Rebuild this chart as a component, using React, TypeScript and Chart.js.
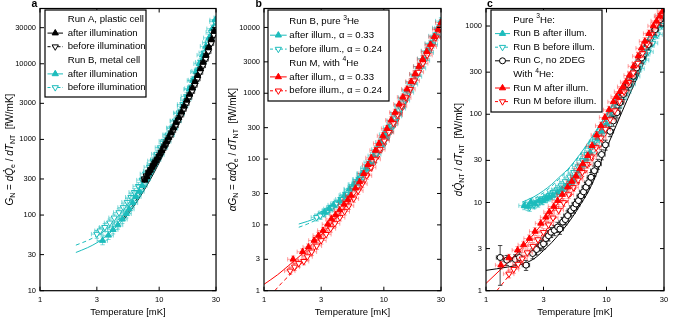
import React, { useEffect, useRef } from 'react';
import { Chart, registerables } from 'chart.js';

Chart.register(...registerables);

const FONT = '"Liberation Sans", Arial, Helvetica, sans-serif';
const CYAN = '#1cbcbc';
const CYAN_ERR = 'rgba(28,188,188,0.55)';
const RED = '#ff0000';
const RED_ERR = 'rgba(255,20,20,0.4)';
const BLACK = '#000000';
const BLACK_ERR = 'rgba(0,0,0,0.7)';

// ---------- axis ticks ----------
const X_TICKS = [1, 3, 10, 30];
const A_Y_TICKS = [10, 30, 100, 300, 1000, 3000, 10000, 30000];
const B_Y_TICKS = [1, 3, 10, 30, 100, 300, 1000, 3000, 10000];
const C_Y_TICKS = [1, 3, 10, 30, 100, 300, 1000];

// ---------- panel a ----------
const aCyanAfterT = [3.35, 3.75, 4.1, 4.5, 4.9, 5.3, 5.6, 6.0, 6.4, 6.8, 7.2, 7.7, 8.2, 8.8, 9.4, 10.0, 10.7, 11.4, 12.2, 13.0, 13.9, 14.8, 15.8, 16.8, 17.9, 19.1, 20.4, 21.7, 23.1, 24.6, 26.2, 27.9, 29.6];
const aCyanAfterG = [46, 54, 64, 74, 88, 104, 120, 145, 175, 205, 245, 300, 380, 470, 540, 630, 780, 940, 1150, 1400, 1750, 2200, 2750, 3400, 4600, 6000, 7800, 10000, 13000, 17000, 22000, 29000, 38000];
const aCyanBeforeT = [3.0, 3.2, 3.5, 3.85, 4.2, 4.6, 5.0, 5.4, 5.8, 6.2, 6.7, 7.2, 7.7, 8.3, 8.9, 9.6, 10.3, 11.1, 11.9, 12.8, 13.7, 14.7, 15.8, 17.0, 18.2, 19.5, 20.9, 22.4, 24.0, 25.7, 27.5, 29.5];
const aCyanBeforeG = [56, 62, 69, 79, 92, 108, 126, 148, 172, 200, 240, 290, 350, 430, 520, 640, 780, 950, 1150, 1420, 1760, 2250, 2900, 3700, 4700, 6100, 8000, 10500, 14000, 19000, 26000, 36000];
const aBlackAfterT = [7.6, 7.9, 8.1, 8.4, 8.7, 9.0, 9.3, 9.7, 10.1, 10.5, 11.0, 11.5, 12.0, 12.6, 13.2, 13.9, 14.6, 15.4, 16.2, 17.1, 18.0, 19.0, 20.0, 21.0, 22.2, 23.4, 24.7, 26.0, 27.5, 29.0];
const aBlackAfterG = [290, 320, 360, 390, 430, 470, 520, 570, 640, 710, 820, 930, 1060, 1230, 1420, 1680, 1950, 2300, 2750, 3300, 3950, 4800, 5800, 7000, 8600, 10500, 13000, 16500, 21000, 27000];
const aBlackBeforeT = [7.5, 7.8, 8.2, 8.5, 8.9, 9.2, 9.6, 10.0, 10.4, 10.9, 11.4, 11.9, 12.5, 13.1, 13.8, 14.5, 15.3, 16.1, 17.0, 17.9, 18.9, 19.9, 21.0, 22.1, 23.3, 24.6, 25.9, 27.3, 28.8];
const aBlackBeforeG = [300, 330, 370, 400, 450, 490, 540, 600, 670, 760, 860, 980, 1120, 1300, 1520, 1780, 2100, 2500, 3000, 3600, 4300, 5200, 6300, 7700, 9400, 11500, 14500, 18500, 24000];
const aCurveT = [2, 2.5, 3, 3.5, 4, 5, 6, 7, 8, 10, 12, 15, 20, 25, 30];
const aCyanSolidG = [32, 37, 43, 51, 61, 88, 128, 185, 265, 520, 950, 2200, 7000, 18000, 42000];
const aCyanDashG = [40, 46, 53, 62, 73, 102, 145, 205, 290, 560, 1000, 2300, 7200, 18500, 43000];
const aBlackCurveT = [5, 6, 7, 8, 10, 12, 15, 20, 25, 30];
const aBlackSolidG = [85, 125, 180, 255, 490, 900, 2050, 6500, 17000, 40000];
const aBlackDashG = [92, 135, 195, 275, 520, 950, 2150, 6800, 17500, 41000];

// ---------- panel b ----------
const bRedAfterT = [1.75, 2.1, 2.35, 2.62, 2.85, 3.11, 3.4, 3.65, 3.95, 4.28, 4.65, 5.0, 5.34, 5.8, 6.28, 6.8, 7.37, 7.85, 8.5, 9.1, 9.8, 10.6, 11.5, 12.4, 13.4, 14.4, 15.6, 16.9, 18.2, 19.6, 21.1, 22.8, 24.5, 26.4, 28.4, 30.0];
const bRedAfterG = [3.0, 3.9, 4.6, 5.8, 6.9, 8.2, 10.2, 12.3, 14.2, 16.8, 20.5, 24, 28, 36, 45, 60, 82, 104, 135, 172, 225, 290, 390, 510, 680, 870, 1150, 1500, 1950, 2550, 3300, 4300, 5500, 7200, 9300, 11800];
const bRedBeforeT = [1.65, 1.8, 1.95, 2.15, 2.3, 2.5, 2.75, 3.0, 3.3, 3.6, 3.9, 4.3, 4.7, 5.1, 5.6, 6.1, 6.6, 7.2, 7.8, 8.5, 9.3, 10.1, 11.0, 12.0, 13.0, 14.1, 15.3, 16.6, 18.0, 19.5, 21.2, 23.0, 25.0, 27.1, 29.3];
const bRedBeforeG = [2.0, 2.3, 2.6, 2.8, 3.3, 3.9, 4.8, 5.8, 7.2, 8.8, 10.5, 13, 16, 19.5, 25, 33, 42, 56, 75, 100, 140, 190, 255, 350, 470, 640, 860, 1150, 1550, 2100, 2850, 3800, 5100, 7000, 9400];
const bCyanAfterT = [3.2, 3.5, 3.8, 4.28, 4.7, 5.17, 5.6, 6.08, 6.6, 7.1, 7.6, 8.2, 8.8, 9.5, 10.2, 11.0, 11.8, 12.7, 13.7, 14.7, 15.8, 17.0, 18.3, 19.7, 21.2, 22.8, 24.5, 26.3, 28.3, 30];
const bCyanAfterG = [15.5, 17.5, 20, 23.2, 28, 35, 41, 49, 60, 72, 88, 112, 140, 180, 235, 300, 385, 500, 660, 860, 1120, 1480, 1950, 2550, 3350, 4400, 5700, 7400, 9800, 12500];
const bCyanBeforeT = [2.75, 2.95, 3.15, 3.4, 3.7, 4.0, 4.4, 4.8, 5.2, 5.7, 6.2, 6.7, 7.3, 7.9, 8.6, 9.3, 10.1, 10.9, 11.8, 12.8, 13.8, 14.9, 16.1, 17.4, 18.8, 20.3, 21.9, 23.6, 25.5, 27.5, 29.6];
const bCyanBeforeG = [13, 13.8, 15, 16.5, 18.5, 21, 24.5, 29, 34, 41, 49, 60, 75, 93, 118, 150, 200, 260, 340, 450, 590, 780, 1030, 1370, 1800, 2400, 3150, 4150, 5500, 7300, 9800];
const bCyanCurveT = [1.95, 2.3, 2.7, 3.2, 3.7, 4.3, 5, 6, 7, 8, 10, 12, 15, 20, 25, 30];
const bCyanSolidG = [10.3, 11.3, 12.6, 14.8, 17.5, 21.5, 28, 41, 60, 85, 165, 300, 700, 2300, 6000, 13500];
const bCyanDashG = [9.2, 10.3, 11.8, 14.2, 17.0, 21.0, 27.5, 40, 58, 82, 158, 285, 670, 2200, 5800, 13000];
const bRedSolidT = [1, 1.3, 1.6, 2, 2.5, 3, 3.5, 4, 5, 6, 7, 8, 10, 12, 15, 20, 25, 30];
const bRedSolidG = [1.25, 1.75, 2.4, 3.4, 5.0, 7.0, 9.6, 12.8, 21, 33, 52, 78, 160, 290, 650, 2150, 5500, 12000];
const bRedDashT = [1.23, 1.4, 1.7, 2, 2.5, 3, 3.5, 4, 5, 6, 7, 8, 10, 12, 15, 20, 25, 30];
const bRedDashG = [1.0, 1.3, 1.85, 2.5, 3.8, 5.5, 7.6, 10.3, 17.5, 28, 44, 68, 145, 270, 620, 2100, 5400, 11800];

// ---------- panel c ----------
const cCircleT = [1.31, 1.49, 1.75, 1.89, 2.15, 2.44, 2.63, 2.86, 3.0, 3.14, 3.3, 3.46, 3.69, 3.93, 4.1, 4.33, 4.55, 4.76, 5.07, 5.35, 5.58, 5.85, 6.14, 6.45, 6.76, 7.1, 7.44, 7.93, 8.46, 9.1, 9.8, 10.7, 11.4, 12.2, 12.9, 13.8, 15.2, 16.7, 17.8, 19.6, 22.2, 25.3, 27.9];
const cCircleG = [2.38, 2.22, 2.26, 2.38, 1.95, 2.64, 2.93, 3.27, 3.4, 3.9, 4.2, 4.6, 4.83, 5.27, 5.0, 6.0, 6.4, 7.1, 8.1, 8.7, 9.6, 10.5, 11.9, 13.2, 14.9, 16.8, 19.3, 22.9, 27.3, 35, 45, 64, 84, 104, 135, 168, 215, 270, 335, 435, 615, 910, 1180];
const cCircleFirstErr = [1.15, 3.25];
const cBlackLineT = [1, 1.5, 2, 2.5, 3, 3.5, 4, 4.5, 5, 5.5, 6, 7, 8, 9, 10, 12, 15, 20, 25, 30];
const cBlackLineG = [1.7, 1.85, 2.0, 2.3, 2.85, 3.5, 4.3, 5.2, 6.3, 7.6, 9.2, 13, 19, 29, 41, 74, 150, 360, 780, 1500];
const cRedAfterT = [1.33, 1.55, 1.83, 2.05, 2.29, 2.55, 2.85, 3.14, 3.35, 3.65, 3.93, 4.3, 4.76, 5.15, 5.58, 6.0, 6.35, 6.99, 7.6, 8.28, 9.0, 9.7, 10.5, 11.4, 12.1, 12.9, 13.7, 14.5, 15.5, 16.8, 18.3, 19.5, 20.8, 22.5, 24.5, 26.0, 27.7, 29.3];
const cRedAfterG = [1.95, 2.35, 2.88, 3.3, 3.9, 4.7, 5.8, 6.8, 7.8, 9.0, 10.5, 12.3, 14.9, 17.3, 20, 24, 27.3, 34, 44, 58, 74, 92, 112, 138, 158, 180, 205, 232, 275, 350, 455, 560, 670, 820, 1000, 1140, 1290, 1480];
const cRedBeforeT = [1.55, 1.7, 1.85, 2.0, 2.2, 2.45, 2.7, 3.0, 3.3, 3.6, 4.0, 4.4, 4.85, 5.3, 5.8, 6.3, 6.9, 7.5, 8.2, 9.0, 9.8, 10.7, 11.7, 12.8, 14.0, 15.3, 16.7, 18.2, 19.9, 21.7, 23.7, 25.9, 28.2];
const cRedBeforeG = [1.55, 1.75, 2.0, 2.3, 2.7, 3.2, 3.8, 4.6, 5.6, 6.7, 8.2, 10, 12.3, 14.8, 18, 22, 27, 33, 42, 54, 68, 87, 110, 140, 180, 230, 295, 380, 490, 630, 810, 1030, 1320];
const cCyanAfterT = [2.08, 2.22, 2.36, 2.55, 2.75, 2.95, 3.14, 3.35, 3.58, 3.93, 4.25, 4.6, 4.9, 5.24, 5.6, 5.95, 6.35, 6.76, 7.3, 7.9, 8.5, 9.2, 10.0, 10.9, 11.8, 12.8, 13.9, 15.1, 16.4, 17.8, 19.3, 21.0, 22.8, 24.8, 27.0, 29.3];
const cCyanAfterG = [9.2, 9.0, 10.1, 9.6, 10.4, 10.5, 11, 11.5, 12, 13, 14, 14.9, 16.2, 17.7, 20, 22.9, 26.5, 31, 37, 45, 53, 64, 78, 95, 115, 140, 170, 210, 260, 320, 400, 500, 620, 780, 1000, 1300];
const cCyanBeforeT = [2.3, 2.5, 2.7, 2.9, 3.1, 3.35, 3.6, 3.9, 4.2, 4.55, 4.95, 5.35, 5.8, 6.3, 6.85, 7.4, 8.0, 8.7, 9.5, 10.3, 11.2, 12.2, 13.3, 14.5, 15.8, 17.2, 18.7, 20.4, 22.2, 24.2, 26.4, 28.7];
const cCyanBeforeG = [8.8, 9.4, 9.8, 10.6, 11.2, 12, 13, 14, 15.5, 17.3, 19.5, 22, 25.5, 30, 35, 41, 49, 58, 70, 84, 100, 122, 148, 180, 220, 270, 330, 410, 510, 640, 800, 1020];
const cCyanCurveT = [2, 2.5, 3, 3.5, 4, 4.5, 5, 6, 7, 8, 10, 12, 15, 20, 25, 30];
const cCyanSolidG = [10.1, 11.6, 13.6, 16, 19, 22, 25.5, 35, 47, 62, 100, 150, 260, 560, 1000, 1550];
const cCyanDashG = [9.6, 11.0, 12.9, 15.3, 18.2, 21.2, 24.8, 34, 45.5, 60, 98, 148, 255, 550, 990, 1540];
const cRedSolidT = [1, 1.3, 1.6, 2, 2.5, 3, 3.5, 4, 5, 6, 7, 8, 10, 12, 15, 20, 25, 30];
const cRedSolidG = [1.21, 1.7, 2.25, 3.1, 4.4, 6.0, 7.8, 10, 15.5, 23, 34, 50, 95, 150, 270, 560, 1000, 1550];
const cRedDashT = [1.23, 1.5, 2, 2.5, 3, 3.5, 4, 5, 6, 7, 8, 10, 12, 15, 20, 25, 30];
const cRedDashG = [1.0, 1.4, 2.3, 3.3, 4.5, 5.8, 7.4, 11.5, 17, 24, 33, 60, 100, 195, 450, 850, 1400];

// ---------- helpers ----------
function pts(xs: number[], ys: number[]) {
  return xs.map((x, i) => ({ x, y: ys[i] }));
}

function markerSet(label: string, T: number[], G: number[], color: string, errColor: string, kind: string, order: number, errX: number, errY: number, extra: any = {}) {
  return {
    label,
    data: pts(T, G),
    showLine: false,
    pointStyle: kind === 'circle' ? 'circle' : 'triangle',
    pointRotation: kind === 'down' ? 180 : 0,
    pointRadius: kind === 'circle' ? 3 : 3.6,
    pointBackgroundColor: kind === 'up' ? color : '#ffffff',
    pointBorderColor: color,
    pointBorderWidth: 1,
    borderColor: color,
    errX,
    errY,
    errColor,
    order,
    ...extra,
  };
}

function curveSet(label: string, T: number[], G: number[], color: string, dashed: boolean) {
  return {
    label,
    data: pts(T, G),
    showLine: true,
    pointRadius: 0,
    borderColor: color,
    borderWidth: 1,
    borderDash: dashed ? [4, 3] : [],
    cubicInterpolationMode: 'monotone',
    fill: false,
    order: 20,
  };
}

type Seg = { t: string; it?: boolean; sub?: boolean; sup?: boolean; dot?: boolean };

function segFont(s: Seg, size: number) {
  const sz = s.sub || s.sup ? size * 0.7 : size;
  return `${s.it ? 'italic ' : ''}${sz}px ${FONT}`;
}
function richWidth(ctx: any, segs: Seg[], size: number) {
  let w = 0;
  for (const s of segs) {
    ctx.font = segFont(s, size);
    w += ctx.measureText(s.t).width;
  }
  return w;
}
function drawRich(ctx: any, segs: Seg[], x: number, y: number, size: number, align: string) {
  let cx = align === 'center' ? x - richWidth(ctx, segs, size) / 2 : x;
  ctx.textBaseline = 'middle';
  ctx.textAlign = 'left';
  ctx.fillStyle = '#000';
  for (const s of segs) {
    ctx.font = segFont(s, size);
    const dy = s.sub ? size * 0.3 : s.sup ? -size * 0.38 : 0;
    ctx.fillText(s.t, cx, y + dy);
    const w = ctx.measureText(s.t).width;
    if (s.dot) {
      ctx.beginPath();
      ctx.arc(cx + w * 0.55 + 0.8, y - size * 0.62, size * 0.08, 0, Math.PI * 2);
      ctx.fill();
    }
    cx += w;
  }
}

function drawMarker(ctx: any, kind: string, x: number, y: number, color: string) {
  ctx.save();
  ctx.lineWidth = 1;
  ctx.strokeStyle = color;
  ctx.fillStyle = kind === 'up' ? color : '#ffffff';
  ctx.beginPath();
  if (kind === 'circle') {
    ctx.arc(x, y, 3, 0, Math.PI * 2);
  } else {
    const r = 3.6;
    const s = kind === 'up' ? 1 : -1;
    ctx.moveTo(x, y - s * r);
    ctx.lineTo(x + 0.866 * r, y + s * 0.5 * r);
    ctx.lineTo(x - 0.866 * r, y + s * 0.5 * r);
    ctx.closePath();
  }
  ctx.fill();
  ctx.stroke();
  ctx.restore();
}

function makeDecor(p: any) {
  return {
    id: 'decor',
    beforeDatasetDraw(chart: any, args: any) {
      const ds = chart.data.datasets[args.index];
      if (!ds.errX && !ds.errY) return;
      const { ctx, chartArea: ca, scales } = chart;
      const xs = scales.x;
      const ys = scales.y;
      ctx.save();
      ctx.beginPath();
      ctx.rect(ca.left, ca.top, ca.right - ca.left, ca.bottom - ca.top);
      ctx.clip();
      ctx.strokeStyle = ds.errColor;
      ctx.lineWidth = 1;
      const c = 2.2;
      ds.data.forEach((pt: any, i: number) => {
        const px = xs.getPixelForValue(pt.x);
        const py = ys.getPixelForValue(pt.y);
        const x0 = xs.getPixelForValue(pt.x * (1 - ds.errX));
        const x1 = xs.getPixelForValue(pt.x * (1 + ds.errX));
        let lo = pt.y * (1 - ds.errY);
        let hi = pt.y * (1 + ds.errY);
        if (i === 0 && ds.firstErr) {
          lo = ds.firstErr[0];
          hi = ds.firstErr[1];
        }
        const y0 = ys.getPixelForValue(lo);
        const y1 = ys.getPixelForValue(hi);
        ctx.beginPath();
        ctx.moveTo(x0, py); ctx.lineTo(x1, py);
        ctx.moveTo(x0, py - c); ctx.lineTo(x0, py + c);
        ctx.moveTo(x1, py - c); ctx.lineTo(x1, py + c);
        ctx.moveTo(px, y0); ctx.lineTo(px, y1);
        ctx.moveTo(px - c, y0); ctx.lineTo(px + c, y0);
        ctx.moveTo(px - c, y1); ctx.lineTo(px + c, y1);
        ctx.stroke();
      });
      ctx.restore();
    },
    afterDraw(chart: any) {
      const { ctx, chartArea: ca, scales } = chart;
      ctx.save();
      // inner ticks
      ctx.strokeStyle = '#000';
      ctx.lineWidth = 1;
      ctx.beginPath();
      X_TICKS.forEach((v) => {
        const x = scales.x.getPixelForValue(v);
        ctx.moveTo(x, ca.bottom); ctx.lineTo(x, ca.bottom - 4);
        ctx.moveTo(x, ca.top); ctx.lineTo(x, ca.top + 4);
      });
      p.yTicks.forEach((v: number) => {
        const y = scales.y.getPixelForValue(v);
        ctx.moveTo(ca.left, y); ctx.lineTo(ca.left + 4, y);
        ctx.moveTo(ca.right, y); ctx.lineTo(ca.right - 4, y);
      });
      ctx.stroke();
      // frame
      ctx.lineWidth = 1.2;
      ctx.strokeRect(ca.left, ca.top, ca.right - ca.left, ca.bottom - ca.top);
      // y title
      ctx.save();
      ctx.translate(p.titleX, (ca.top + ca.bottom) / 2);
      ctx.rotate(-Math.PI / 2);
      drawRich(ctx, p.title, 0, 0, 10, 'center');
      ctx.restore();
      // panel letter
      ctx.font = `bold 10.5px ${FONT}`;
      ctx.textAlign = 'left';
      ctx.textBaseline = 'alphabetic';
      ctx.fillStyle = '#000';
      ctx.fillText(p.letter, p.letterX, 7);
      // legend
      const L = p.legend;
      ctx.fillStyle = '#fff';
      ctx.fillRect(L.x0, L.y0, L.x1 - L.x0, L.y1 - L.y0);
      ctx.strokeStyle = '#000';
      ctx.lineWidth = 1.2;
      ctx.strokeRect(L.x0, L.y0, L.x1 - L.x0, L.y1 - L.y0);
      L.rows.forEach((r: any, i: number) => {
        const y = L.rowY0 + i * L.dy;
        if (r.color) {
          ctx.strokeStyle = r.color;
          ctx.lineWidth = 1;
          ctx.setLineDash(r.dashed ? [3, 2] : []);
          ctx.beginPath();
          ctx.moveTo(L.lineX0, y);
          ctx.lineTo(L.lineX1, y);
          ctx.stroke();
          ctx.setLineDash([]);
          drawMarker(ctx, r.kind, (L.lineX0 + L.lineX1) / 2, y, r.color);
        }
        drawRich(ctx, r.segs, L.textX, y, 9.6, 'left');
      });
      ctx.restore();
    },
  };
}

function buildConfig(p: any) {
  return {
    type: 'scatter',
    data: { datasets: p.datasets },
    options: {
      responsive: false,
      animation: false,
      devicePixelRatio: 1,
      events: [],
      layout: { padding: { left: 0, right: p.padRight, top: p.padTop, bottom: 0 } },
      plugins: { legend: { display: false }, tooltip: { enabled: false } },
      scales: {
        x: {
          type: 'logarithmic',
          min: 1,
          max: 30,
          position: 'bottom',
          grid: { display: false, drawTicks: false, tickLength: 0 },
          border: { display: false },
          ticks: {
            autoSkip: false,
            maxRotation: 0,
            padding: 4.8,
            color: '#000',
            font: { family: FONT, size: 7.5 },
            callback: (v: any) => String(v),
          },
          afterBuildTicks: (ax: any) => {
            ax.ticks = X_TICKS.map((v) => ({ value: v }));
          },
          afterFit: (ax: any) => {
            ax.height = 29.3;
          },
          title: {
            display: true,
            text: 'Temperature [mK]',
            color: '#000',
            font: { family: FONT, size: 9.5 },
            padding: { top: 0, bottom: 1.6 },
          },
        },
        y: {
          type: 'logarithmic',
          min: p.yMin,
          max: p.yMax,
          position: 'left',
          grid: { display: false, drawTicks: false, tickLength: 0 },
          border: { display: false },
          ticks: {
            autoSkip: false,
            padding: 4,
            color: '#000',
            font: { family: FONT, size: 7.5 },
            callback: (v: any) => String(v),
          },
          afterBuildTicks: (ax: any) => {
            ax.ticks = p.yTicks.map((v: number) => ({ value: v }));
          },
          afterFit: (ax: any) => {
            ax.width = p.yAxisWidth;
          },
        },
      },
    },
    plugins: [makeDecor(p)],
  };
}

// ---------- panel specs ----------
function panelA() {
  return buildConfig({
    yMin: 10,
    yMax: 53800,
    yTicks: A_Y_TICKS,
    yAxisWidth: 40,
    padRight: 7,
    padTop: 5,
    titleX: 10,
    letter: 'a',
    letterX: 31.5,
    title: [
      { t: 'G', it: true }, { t: 'N', sub: true }, { t: ' = ' }, { t: 'd', it: true }, { t: 'Q', it: true, dot: true },
      { t: 'e', sub: true }, { t: ' / ' }, { t: 'd', it: true }, { t: 'T', it: true }, { t: 'NT', sub: true }, { t: '  [fW/mK]' },
    ],
    legend: {
      x0: 45, y0: 10, x1: 146, y1: 97, rowY0: 19.5, dy: 13.6, lineX0: 47.5, lineX1: 63, textX: 67.7,
      rows: [
        { segs: [{ t: 'Run A, plastic cell' }] },
        { segs: [{ t: 'after illumination' }], color: BLACK, kind: 'up', dashed: false },
        { segs: [{ t: 'before illumination' }], color: BLACK, kind: 'down', dashed: true },
        { segs: [{ t: 'Run B, metal cell' }] },
        { segs: [{ t: 'after illumination' }], color: CYAN, kind: 'up', dashed: false },
        { segs: [{ t: 'before illumination' }], color: CYAN, kind: 'down', dashed: true },
      ],
    },
    datasets: [
      markerSet('Run A after', aBlackAfterT, aBlackAfterG, BLACK, BLACK_ERR, 'up', 2, 0.05, 0.06),
      markerSet('Run A before', aBlackBeforeT, aBlackBeforeG, BLACK, BLACK_ERR, 'down', 3, 0.05, 0.06),
      markerSet('Run B after', aCyanAfterT, aCyanAfterG, CYAN, CYAN_ERR, 'up', 5, 0.1, 0.12),
      markerSet('Run B before', aCyanBeforeT, aCyanBeforeG, CYAN, CYAN_ERR, 'down', 6, 0.1, 0.12),
      curveSet('Run B after fit', aCurveT, aCyanSolidG, CYAN, false),
      curveSet('Run B before fit', aCurveT, aCyanDashG, CYAN, true),
      curveSet('Run A after fit', aBlackCurveT, aBlackSolidG, BLACK, false),
      curveSet('Run A before fit', aBlackCurveT, aBlackDashG, BLACK, true),
    ],
  });
}

function panelB() {
  return buildConfig({
    yMin: 1,
    yMax: 19400,
    yTicks: B_Y_TICKS,
    yAxisWidth: 39,
    padRight: 8.3,
    padTop: 6,
    titleX: 8,
    letter: 'b',
    letterX: 30.5,
    title: [
      { t: 'α', it: true }, { t: 'G', it: true }, { t: 'N', sub: true }, { t: ' = ' }, { t: 'α', it: true }, { t: 'd', it: true },
      { t: 'Q', it: true, dot: true }, { t: 'e', sub: true }, { t: ' / ' }, { t: 'd', it: true }, { t: 'T', it: true },
      { t: 'NT', sub: true }, { t: '  [fW/mK]' },
    ],
    legend: {
      x0: 43, y0: 10, x1: 164, y1: 101, rowY0: 21.3, dy: 13.9, lineX0: 45, lineX1: 61.7, textX: 64.3,
      rows: [
        { segs: [{ t: 'Run B, pure ' }, { t: '3', sup: true }, { t: 'He' }] },
        { segs: [{ t: 'after illum., α = 0.33' }], color: CYAN, kind: 'up', dashed: false },
        { segs: [{ t: 'before illum., α = 0.24' }], color: CYAN, kind: 'down', dashed: true },
        { segs: [{ t: 'Run M, with ' }, { t: '4', sup: true }, { t: 'He' }] },
        { segs: [{ t: 'after illum., α = 0.33' }], color: RED, kind: 'up', dashed: false },
        { segs: [{ t: 'before illum., α = 0.24' }], color: RED, kind: 'down', dashed: true },
      ],
    },
    datasets: [
      markerSet('Run M after', bRedAfterT, bRedAfterG, RED, RED_ERR, 'up', 2, 0.1, 0.12),
      markerSet('Run M before', bRedBeforeT, bRedBeforeG, RED, RED_ERR, 'down', 3, 0.1, 0.12),
      markerSet('Run B after', bCyanAfterT, bCyanAfterG, CYAN, CYAN_ERR, 'up', 5, 0.1, 0.12),
      markerSet('Run B before', bCyanBeforeT, bCyanBeforeG, CYAN, CYAN_ERR, 'down', 6, 0.1, 0.12),
      curveSet('Run B after fit', bCyanCurveT, bCyanSolidG, CYAN, false),
      curveSet('Run B before fit', bCyanCurveT, bCyanDashG, CYAN, true),
      curveSet('Run M after fit', bRedSolidT, bRedSolidG, RED, false),
      curveSet('Run M before fit', bRedDashT, bRedDashG, RED, true),
    ],
  });
}

function panelC() {
  return buildConfig({
    yMin: 1,
    yMax: 1580,
    yTicks: C_Y_TICKS,
    yAxisWidth: 36,
    padRight: 11,
    padTop: 7,
    titleX: 9,
    letter: 'c',
    letterX: 37,
    title: [
      { t: 'd', it: true }, { t: 'Q', it: true, dot: true }, { t: 'NT', sub: true }, { t: ' / ' }, { t: 'd', it: true },
      { t: 'T', it: true }, { t: 'NT', sub: true }, { t: '  [fW/mK]' },
    ],
    legend: {
      x0: 41, y0: 10, x1: 152, y1: 112, rowY0: 20, dy: 13.6, lineX0: 45, lineX1: 60, textX: 63.3,
      rows: [
        { segs: [{ t: 'Pure ' }, { t: '3', sup: true }, { t: 'He:' }] },
        { segs: [{ t: 'Run B after illum.' }], color: CYAN, kind: 'up', dashed: false },
        { segs: [{ t: 'Run B before illum.' }], color: CYAN, kind: 'down', dashed: true },
        { segs: [{ t: 'Run C, no 2DEG' }], color: BLACK, kind: 'circle', dashed: false },
        { segs: [{ t: 'With ' }, { t: '4', sup: true }, { t: 'He:' }] },
        { segs: [{ t: 'Run M after illum.' }], color: RED, kind: 'up', dashed: false },
        { segs: [{ t: 'Run M before illum.' }], color: RED, kind: 'down', dashed: true },
      ],
    },
    datasets: [
      markerSet('Run M after', cRedAfterT, cRedAfterG, RED, RED_ERR, 'up', 2, 0.1, 0.1),
      markerSet('Run M before', cRedBeforeT, cRedBeforeG, RED, RED_ERR, 'down', 3, 0.1, 0.1),
      markerSet('Run C', cCircleT, cCircleG, BLACK, BLACK_ERR, 'circle', 4, 0.07, 0.13, { firstErr: cCircleFirstErr }),
      markerSet('Run B after', cCyanAfterT, cCyanAfterG, CYAN, CYAN_ERR, 'up', 5, 0.1, 0.1),
      markerSet('Run B before', cCyanBeforeT, cCyanBeforeG, CYAN, CYAN_ERR, 'down', 6, 0.1, 0.1),
      curveSet('Run B after fit', cCyanCurveT, cCyanSolidG, CYAN, false),
      curveSet('Run B before fit', cCyanCurveT, cCyanDashG, CYAN, true),
      curveSet('Run C fit', cBlackLineT, cBlackLineG, BLACK, false),
      curveSet('Run M after fit', cRedSolidT, cRedSolidG, RED, false),
      curveSet('Run M before fit', cRedDashT, cRedDashG, RED, true),
    ],
  });
}

function Panel({ make, left }: { make: () => any; left: number }) {
  const ref = useRef<HTMLCanvasElement | null>(null);
  useEffect(() => {
    const chart = new Chart(ref.current as any, make());
    return () => chart.destroy();
  }, []);
  return (
    <canvas
      ref={ref}
      width={225}
      height={320}
      style={{ position: 'absolute', left, top: 0, width: 225, height: 320 }}
    />
  );
}

export default function App() {
  return (
    <div style={{ position: 'fixed', left: 0, top: 0, width: 675, height: 320, background: '#fff', overflow: 'hidden' }}>
      <Panel make={panelA} left={0} />
      <Panel make={panelB} left={225} />
      <Panel make={panelC} left={450} />
    </div>
  );
}
